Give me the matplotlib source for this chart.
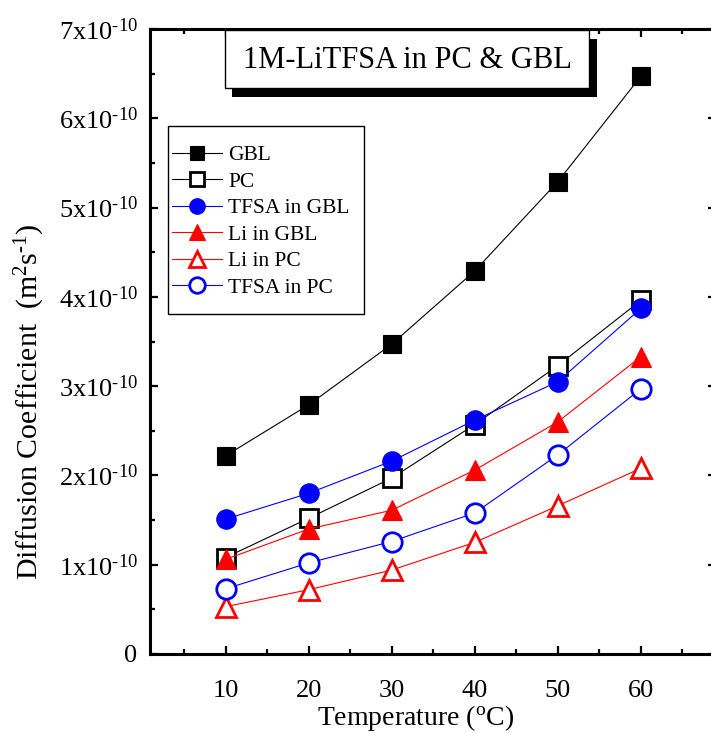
import numpy as np
import matplotlib
matplotlib.use('Agg')
import matplotlib.pyplot as plt
from matplotlib.patches import Rectangle
from matplotlib.ticker import MultipleLocator, FixedLocator

plt.rcParams['font.family'] = ['Liberation Serif', 'DejaVu Serif']
plt.rcParams['mathtext.fontset'] = 'custom'
plt.rcParams['mathtext.rm'] = 'Liberation Serif'
plt.rcParams['mathtext.it'] = 'Liberation Serif:italic'

# temperature (C) and diffusion coefficients (units of 1e-10 m2/s)
temp = [10, 20, 30, 40, 50, 60]
d_gbl = [2.22, 2.79, 3.47, 4.29, 5.29, 6.47]
d_pc = [1.08, 1.52, 1.97, 2.57, 3.23, 3.96]
d_tfsa_gbl = [1.51, 1.80, 2.16, 2.62, 3.05, 3.87]
d_li_gbl = [1.06, 1.40, 1.61, 2.06, 2.60, 3.33]
d_li_pc = [0.53, 0.72, 0.94, 1.25, 1.66, 2.08]
d_tfsa_pc = [0.73, 1.02, 1.26, 1.58, 2.23, 2.97]

HY = '\u2010'  # plain hyphen instead of the math minus sign
ytick_vals = [0, 1, 2, 3, 4, 5, 6, 7]
ytick_labels = ['0'] + [r'%dx10$^{\mathregular{%s10}}$' % (v, HY) for v in ytick_vals[1:]]

W, H = 711, 733
fig = plt.figure(figsize=(W / 100, H / 100), dpi=100)

# axes box in pixels
x0, x1 = 150, 715.6
y_top, y_bot = 29, 654
ax = fig.add_axes([x0 / W, (H - y_bot) / H, (x1 - x0) / W, (y_bot - y_top) / H])

series = [
    ('GBL', d_gbl, 'black', 's', 'black'),
    ('PC', d_pc, 'black', 's', 'white'),
    ('TFSA in GBL', d_tfsa_gbl, '#0000FF', 'o', '#0000FF'),
    ('Li in GBL', d_li_gbl, '#FF0000', '^', '#FF0000'),
    ('Li in PC', d_li_pc, '#FF0000', '^', 'white'),
    ('TFSA in PC', d_tfsa_pc, '#0000FF', 'o', 'white'),
]
sizes = {'s': 13, 'o': 14, '^': 15}
for name, vals, col, mk, fc in series:
    ax.plot(temp, np.array(vals) * 1e-10, color=col, lw=0.8, marker=mk,
            markersize=sizes[mk], markerfacecolor=fc, markeredgecolor=col,
            markeredgewidth=2.0 if fc == 'white' else 0.8, label=name)

ax.set_xlim(0.9, 69)
ax.set_ylim(0, 7e-10)
ax.xaxis.set_major_locator(FixedLocator(temp))
ax.xaxis.set_minor_locator(MultipleLocator(5))
ax.set_yticks([v * 1e-10 for v in ytick_vals])
ax.set_yticklabels(ytick_labels)
ax.yaxis.set_minor_locator(MultipleLocator(0.5e-10))

for s in ax.spines.values():
    s.set_linewidth(2.2)
ax.tick_params(which='both', direction='in', top=True, right=True, width=1.6)
ax.tick_params(which='major', length=6)
ax.tick_params(which='minor', length=3.5)
ax.tick_params(axis='x', labelsize=19, pad=19)
ax.tick_params(axis='y', labelsize=19, pad=9)

ax.set_xlabel(r'Temperature ($^{\mathregular{o}}$C)', fontsize=20)
ax.set_ylabel(r'Diffusion Coefficient  (m$^{\mathregular{2}}$s$^{\mathregular{%s1}}$)' % HY, fontsize=21.5)
ax.xaxis.set_label_coords((416 - x0) / (x1 - x0), (y_bot - 703) / (y_bot - y_top))
ax.yaxis.set_label_coords((47 - x0) / (x1 - x0), (y_bot - 402) / (y_bot - y_top))

# title box with drop shadow
def px_box(left, top, right, bottom, **kw):
    return Rectangle(((left - x0) / (x1 - x0), (y_bot - bottom) / (y_bot - y_top)),
                     (right - left) / (x1 - x0), (bottom - top) / (y_bot - y_top),
                     transform=ax.transAxes, clip_on=False, **kw)

ax.add_patch(px_box(232, 39, 597, 97, facecolor='black', edgecolor='none', zorder=5))
ax.add_patch(px_box(225, 30, 589, 88, facecolor='white', edgecolor='black', lw=1.0, zorder=6))
ax.text((407 - x0) / (x1 - x0), (y_bot - 60) / (y_bot - y_top), '1M-LiTFSA in PC & GBL',
        transform=ax.transAxes, ha='center', va='center', fontsize=22, zorder=7)

# legend frame drawn separately, entries placed inside it
ax.add_patch(px_box(168, 126, 364, 314, facecolor='white', edgecolor='black', lw=1.0, zorder=4))
leg = ax.legend(loc='upper left', bbox_to_anchor=((172 - x0) / (x1 - x0), (y_bot - 145) / (y_bot - y_top)),
                borderaxespad=0, borderpad=0, frameon=False, fontsize=15.5,
                handlelength=2.3, handletextpad=0.3, labelspacing=0.3, markerscale=0.8)
leg.set_zorder(8)

fig.savefig('out.png', dpi=100)
